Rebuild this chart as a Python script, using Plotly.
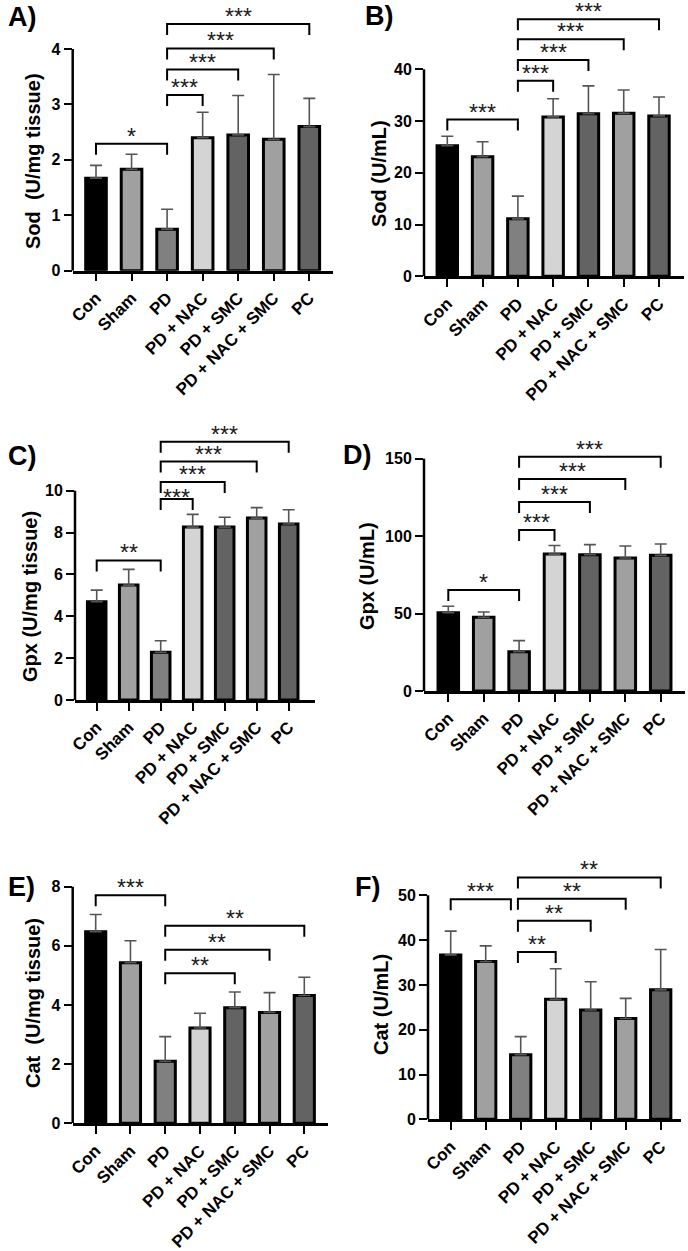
import plotly.graph_objects as go

W, H = 688, 1251

categories = ["Con", "Sham", "PD", "PD + NAC", "PD + SMC", "PD + NAC + SMC", "PC"]
bar_colors = ["#000000", "#a0a0a0", "#808080", "#d4d4d4", "#636363", "#a0a0a0", "#636363"]

# Panel A: Sod (U/mg tissue)
sod_tissue_mean = [1.67, 1.83, 0.75, 2.40, 2.45, 2.37, 2.60]
sod_tissue_sd = [0.23, 0.27, 0.36, 0.46, 0.71, 1.17, 0.51]
# Panel B: Sod (U/mL)
sod_ml_mean = [25.25, 23.1, 11.1, 30.8, 31.4, 31.5, 31.0]
sod_ml_sd = [1.8, 2.9, 4.4, 3.5, 5.4, 4.5, 3.65]
# Panel C: Gpx (U/mg tissue)
gpx_tissue_mean = [4.70, 5.49, 2.28, 8.26, 8.26, 8.69, 8.41]
gpx_tissue_sd = [0.55, 0.75, 0.55, 0.61, 0.47, 0.50, 0.68]
# Panel D: Gpx (U/mL)
gpx_ml_mean = [50.6, 47.6, 25.4, 88.4, 88.0, 85.9, 87.6]
gpx_ml_sd = [4.1, 3.4, 7.1, 5.6, 6.5, 7.7, 7.3]
# Panel E: Cat (U/mg tissue)
cat_tissue_mean = [6.48, 5.43, 2.10, 3.22, 3.91, 3.75, 4.32]
cat_tissue_sd = [0.58, 0.74, 0.83, 0.50, 0.53, 0.67, 0.62]
# Panel F: Cat (U/mL)
cat_ml_mean = [36.7, 35.2, 14.4, 26.8, 24.4, 22.5, 28.9]
cat_ml_sd = [5.3, 3.5, 4.05, 6.8, 6.3, 4.5, 9.0]

# significance brackets: (from, to, height, label)
brackets_a = [(0, 2, 2.29, "*"), (2, 3, 3.17, "***"), (2, 4, 3.63, "***"), (2, 5, 4.01, "***"), (2, 6, 4.45, "***")]
brackets_b = [(0, 2, 30.3, "***"), (2, 3, 37.8, "***"), (2, 4, 41.8, "***"), (2, 5, 45.8, "***"), (2, 6, 49.66, "***")]
brackets_c = [(0, 2, 6.67, "**"), (2, 3, 9.6, "***"), (2, 4, 10.41, "***"), (2, 5, 11.39, "***"), (2, 6, 12.34, "***")]
brackets_d = [(0, 2, 65.2, "*"), (2, 3, 103.9, "***"), (2, 4, 122.0, "***"), (2, 5, 136.9, "***"), (2, 6, 151.3, "***")]
brackets_e = [(0, 2, 7.71, "***"), (2, 4, 5.07, "**"), (2, 5, 5.87, "**"), (2, 6, 6.68, "**")]
brackets_f = [(0, 1.72, 49.1, "***"), (1.92, 3, 37.35, "**"), (1.92, 4, 44.3, "**"), (1.92, 5, 49.25, "**"), (1.92, 6, 54.0, "**")]

y_titles = ["Sod\u00a0 (U/mg tissue)", "Sod (U/mL)", "Gpx (U/mg tissue)", "Gpx (U/mL)",
            "Cat\u00a0 (U/mg tissue)", "Cat (U/mL)"]
panel_labels = ["A)", "B)", "C)", "D)", "E)", "F)"]
y_tickvals = [[0, 1, 2, 3, 4], [0, 10, 20, 30, 40], [0, 2, 4, 6, 8, 10],
              [0, 50, 100, 150], [0, 2, 4, 6, 8], [0, 10, 20, 30, 40, 50]]

panels = [
    (sod_tissue_mean, sod_tissue_sd, brackets_a),
    (sod_ml_mean, sod_ml_sd, brackets_b),
    (gpx_tissue_mean, gpx_tissue_sd, brackets_c),
    (gpx_ml_mean, gpx_ml_sd, brackets_d),
    (cat_tissue_mean, cat_tissue_sd, brackets_e),
    (cat_ml_mean, cat_ml_sd, brackets_f),
]

# layout geometry in pixels: x_left, x_right, first centre, last centre, y_zero, y_top_tick, top_of_domain
geom = [
    (72.7, 333, 96, 309.3, 270.7, 49, 0),
    (424, 684, 447.3, 659, 276.3, 69.3, 0),
    (75, 315, 96.7, 288.7, 700, 490.7, 410),
    (424, 685, 448.3, 660.7, 691, 458.7, 420),
    (72.7, 328, 95.7, 304.3, 1123.3, 886.7, 855),
    (428, 680.7, 450.7, 660.7, 1119.3, 895.3, 845),
]
title_pos = [(33, 161), (379, 174), (30, 597), (367, 576), (33, 1003), (381, 1005)]
label_pos = [(22, 17), (379, 16), (22, 456), (357, 455), (21, 887), (368, 887)]
# star label vertical offset (px) above bracket; tighter for the lowest bracket in panel C
star_shift = {(2, 1): 8}

FONT = "Liberation Sans, Arial, sans-serif"
fig = go.Figure()
shapes = []
annotations = []
layout_axes = {}

for k, ((mean, sd, brs), g) in enumerate(zip(panels, geom)):
    xl, xr, c0, c6, y0, yt, top = g
    tv = y_tickvals[k]
    tmax = tv[-1]
    sp = (c6 - c0) / 6.0
    ppu = (y0 - yt) / tmax
    ymax = (y0 - top) / ppu
    n = k + 1
    xa = "x" if n == 1 else f"x{n}"
    ya = "y" if n == 1 else f"y{n}"
    fig.add_trace(go.Bar(
        x=categories, y=mean, xaxis=xa, yaxis=ya, width=0.58,
        marker=dict(color=bar_colors, line=dict(color="black", width=3)),
        error_y=dict(type="data", array=sd, arrayminus=[0] * len(sd), symmetric=False,
                     color="#555555", thickness=1.6, width=6),
        showlegend=False,
    ))
    xkey = "xaxis" if n == 1 else f"xaxis{n}"
    ykey = "yaxis" if n == 1 else f"yaxis{n}"
    layout_axes[xkey] = dict(
        domain=[xl / W, xr / W], anchor=ya, range=[(xl - c0) / sp, (xr - c0) / sp],
        type="category", showline=True, linecolor="black", linewidth=2.5,
        ticks="outside", ticklen=8, tickwidth=2, tickcolor="black",
        tickangle=-45, tickfont=dict(family=FONT, size=17, color="black", weight="bold"),
        showgrid=False, zeroline=False, fixedrange=True,
    )
    layout_axes[ykey] = dict(
        domain=[1 - y0 / H, 1 - top / H], anchor=xa, range=[0, ymax],
        tickvals=tv, ticks="outside", ticklen=8, tickwidth=2, tickcolor="black",
        tickfont=dict(family=FONT, size=16, color="black", weight="bold"),
        showline=False, showgrid=False, zeroline=False, fixedrange=True,
    )
    # y axis line up to the top tick
    shapes.append(dict(type="line", xref=f"{xa} domain", yref=ya, x0=0, x1=0, y0=0, y1=tmax,
                       line=dict(color="black", width=2.5)))
    leg = 11 / ppu
    for j, (a, b, h, lab) in enumerate(brs):
        shapes.append(dict(type="path", xref=xa, yref=ya,
                           path=f"M {a},{h - leg} L {a},{h} L {b},{h} L {b},{h - leg}",
                           line=dict(color="black", width=2)))
        annotations.append(dict(x=(a + b) / 2, y=h, xref=xa, yref=ya, text=lab, showarrow=False,
                                yanchor="middle", yshift=star_shift.get((k, j), 14), height=12,
                                valign="top", font=dict(family=FONT, size=23, color="#222222")))
    tx, ty = title_pos[k]
    annotations.append(dict(x=tx / W, y=1 - ty / H, xref="paper", yref="paper", text=y_titles[k],
                            textangle=-90, showarrow=False, xanchor="center", yanchor="middle",
                            font=dict(family=FONT, size=20, color="black", weight="bold")))
    lx, ly = label_pos[k]
    annotations.append(dict(x=lx / W, y=1 - ly / H, xref="paper", yref="paper", text=panel_labels[k],
                            showarrow=False, xanchor="center", yanchor="middle",
                            font=dict(family=FONT, size=27, color="black", weight="bold")))

fig.update_layout(
    width=W, height=H, margin=dict(l=0, r=0, t=0, b=0),
    paper_bgcolor="white", plot_bgcolor="white", template="none",
    shapes=shapes, annotations=annotations, bargap=0.4,
    **layout_axes,
)
fig.write_html("out.html")
